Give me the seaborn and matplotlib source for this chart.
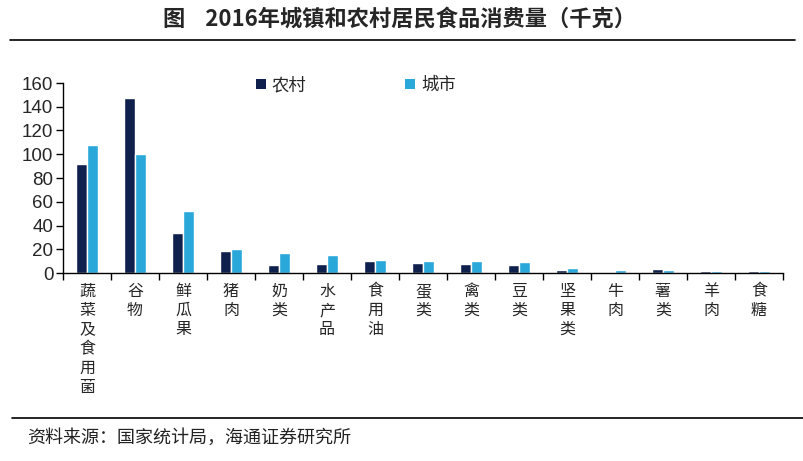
import matplotlib
matplotlib.use("Agg")
import matplotlib.pyplot as plt
import seaborn as sns
import pandas as pd
from matplotlib.patches import Patch
from matplotlib.lines import Line2D

categories = ["蔬菜及食用菌", "谷物", "鲜瓜果", "猪肉", "奶类", "水产品", "食用油",
              "蛋类", "禽类", "豆类", "坚果类", "牛肉", "薯类", "羊肉", "食糖"]
rural = [91.5, 147.2, 34.0, 18.5, 6.5, 7.5, 10.0, 8.5, 7.9, 7.0, 2.3, 1.1, 3.0, 1.3, 1.6]
urban = [107.5, 100.2, 52.6, 20.4, 16.5, 14.8, 11.0, 10.5, 10.2, 9.0, 4.2, 2.5, 2.2, 1.9, 1.3]
series_names = ["农村", "城市"]
title = "图    2016年城镇和农村居民食品消费量（千克）"
source = "资料来源：国家统计局，海通证券研究所"

sns.set_theme(style="white")
plt.rcParams['font.family'] = ['Noto Sans CJK SC', 'DejaVu Sans']

df = pd.DataFrame({
    "cat": categories * 2,
    "val": rural + urban,
    "series": [series_names[0]] * len(categories) + [series_names[1]] * len(categories),
})

c_rural = "#10204c"
c_urban = "#2aa8da"

fig = plt.figure(figsize=(8.04, 4.61), dpi=100)
ax = fig.add_axes([63/804, (461-273)/461, (783-63)/804, (273-83)/461])

sns.barplot(data=df, x="cat", y="val", hue="series", order=categories,
            hue_order=series_names, palette=[c_rural, c_urban], width=0.44,
            saturation=1, ax=ax, legend=False)

ax.set_xlim(-0.5, len(categories) - 0.5)
ax.set_ylim(0, 160)
ax.set_yticks(range(0, 161, 20))
ax.set_xlabel("")
ax.set_ylabel("")
for s in ["top", "right"]:
    ax.spines[s].set_visible(False)
for s in ["left", "bottom"]:
    ax.spines[s].set_color("black")
    ax.spines[s].set_linewidth(1.0)

ax.tick_params(axis="y", which="major", direction="out", length=5, width=1,
               color="black", labelsize=13.5, pad=2, left=True)
for lab in ax.get_yticklabels():
    lab.set_fontfamily(['Liberation Sans', 'DejaVu Sans'])

ax.set_xticks(range(len(categories)))
ax.set_xticklabels(["\n".join(c) for c in categories], fontsize=11.5,
                   linespacing=1.17, va="top")
ax.set_xticks([i - 0.5 for i in range(len(categories) + 1)], minor=True)
ax.tick_params(axis="x", which="major", length=0, pad=7, bottom=True)
ax.tick_params(axis="x", which="minor", direction="out", length=5, width=1,
               color="black", bottom=True)

handles = [Patch(facecolor=c_rural, edgecolor="none"),
           Patch(facecolor=c_urban, edgecolor="none")]
fig.legend(handles, series_names, loc="center left",
           bbox_to_anchor=(256/804, (461-85)/461), ncol=2, frameon=False,
           fontsize=12.5, handlelength=0.55, handleheight=0.55, handletextpad=0.35,
           columnspacing=5.7, borderpad=0, borderaxespad=0)

fig.text(400/804, 1 - 19/461, title, ha="center", va="center", fontsize=16,
         fontweight="bold")
fig.add_artist(Line2D([10/804, 795/804], [1 - 40/461, 1 - 40/461],
                      transform=fig.transFigure, color="black", lw=1.2))
fig.add_artist(Line2D([12/804, 1.0], [1 - 418/461, 1 - 418/461],
                      transform=fig.transFigure, color="black", lw=1.2))
fig.text(27/804, 1 - 438/461, source, ha="left", va="center", fontsize=13,
         color="#222222")

fig.savefig("out.png", dpi=100)
